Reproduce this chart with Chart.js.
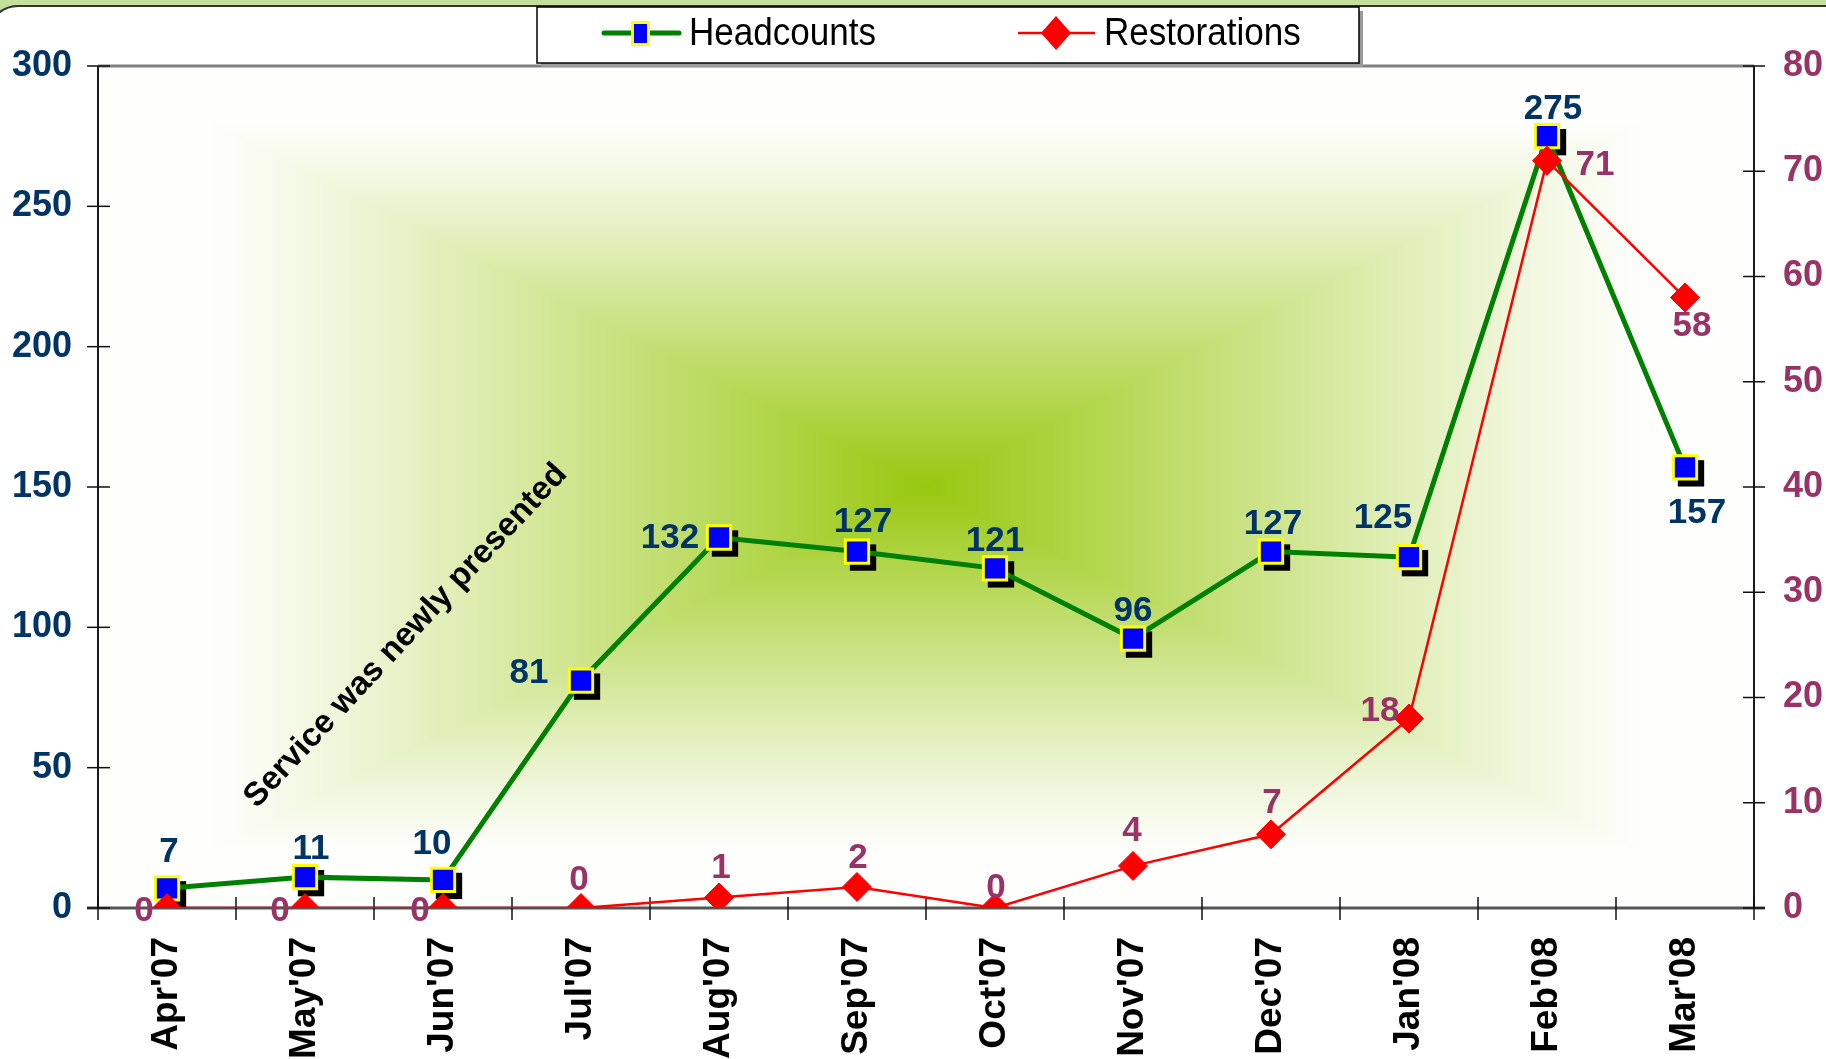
<!DOCTYPE html>
<html><head><meta charset="utf-8">
<script src="https://cdn.jsdelivr.net/npm/chart.js@4.4.0/dist/chart.umd.min.js"></script>
<style>html,body{margin:0;padding:0;background:#fff;overflow:hidden}canvas{display:block}</style>
</head><body>
<canvas id="c" width="1826" height="1059" style="width:1826px;height:1059px"></canvas>
<script>
// ---- data ----
const categories = ["Apr'07","May'07","Jun'07","Jul'07","Aug'07","Sep'07","Oct'07","Nov'07","Dec'07","Jan'08","Feb'08","Mar'08"];
const headcounts = [7, 11, 10, 81, 132, 127, 121, 96, 127, 125, 275, 157];
const restorations = [0, 0, 0, 0, 1, 2, 0, 4, 7, 18, 71, 58];
const seriesNames = ["Headcounts", "Restorations"];
const leftAxis = {min: 0, max: 300, step: 50};
const rightAxis = {min: 0, max: 80, step: 10};
const annotationText = "Service was newly presented";
const annotationAt = {x: 1.73, y: 97};

// ---- label placement (pixel offsets from each point) ----
const headLabelOffsets = [[2,-37],[6,-29],[-11,-37],[-52,-8],[-49,0],[6,-30],[0,-28],[0,-28],[2,-28],[-26,-40],[6,-28],[12,45]];
const restLabelOffsets = [[-23,2],[-25,2],[-23,2],[-2,-29],[2,-30],[1,-30],[1,-21],[-1,-36],[1,-32],[-29,-8],[48,4],[7,28]];

const FONT = "'Liberation Sans', Arial, Helvetica, sans-serif";
const NAVY = '#003366', PLUM = '#993366';

function rr(ctx, x, y, w, h, r){
  ctx.beginPath();
  ctx.moveTo(x+r, y); ctx.lineTo(x+w-r, y); ctx.arcTo(x+w, y, x+w, y+r, r);
  ctx.lineTo(x+w, y+h-r); ctx.arcTo(x+w, y+h, x+w-r, y+h, r);
  ctx.lineTo(x+r, y+h); ctx.arcTo(x, y+h, x, y+h-r, r);
  ctx.lineTo(x, y+r); ctx.arcTo(x, y, x+r, y, r); ctx.closePath();
}

const bgPlugin = {
  id: 'bg',
  beforeDraw(chart){
    const {ctx, chartArea: a, width: W, height: H} = chart;
    ctx.save();
    ctx.fillStyle = '#C5DF9D'; ctx.fillRect(0, 0, W, H);
    rr(ctx, -12, 6, W + 60, H + 60, 30);
    ctx.fillStyle = '#fff'; ctx.fill();
    ctx.lineWidth = 2.2; ctx.strokeStyle = '#333'; ctx.stroke();
    // rectangular "from centre" gradient in plot area
    const w = Math.round(a.right - a.left), h = Math.round(a.bottom - a.top);
    const off = document.createElement('canvas'); off.width = w; off.height = h;
    const octx = off.getContext('2d'); const img = octx.createImageData(w, h);
    const hw = w/2, hh = h/2, C = [152,200,15], E = [254,254,252];
    const D = img.data;
    for (let j = 0; j < h; j++) {
      const dy = Math.abs(j + 0.5 - hh) / hh;
      for (let i = 0; i < w; i++) {
        const d = Math.max(Math.abs(i + 0.5 - hw) / hw, dy);
        let t = (1 - d - 0.13) / 0.87; t = t < 0 ? 0 : (t > 1 ? 1 : t);
        t = Math.pow(t, 1.15);
        const k = (j * w + i) * 4;
        D[k] = E[0] + (C[0]-E[0]) * t; D[k+1] = E[1] + (C[1]-E[1]) * t; D[k+2] = E[2] + (C[2]-E[2]) * t; D[k+3] = 255;
      }
    }
    octx.putImageData(img, 0, 0);
    ctx.drawImage(off, a.left, a.top);
    ctx.restore();
  },
  beforeDatasetsDraw(chart){
    const {ctx, chartArea: a, scales} = chart;
    ctx.save();
    // frame
    ctx.lineCap = 'butt';
    ctx.strokeStyle = '#808080'; ctx.lineWidth = 3;
    ctx.beginPath(); ctx.moveTo(a.left, a.top); ctx.lineTo(a.right, a.top); ctx.stroke();
    ctx.strokeStyle = '#555'; ctx.lineWidth = 3;
    ctx.beginPath(); ctx.moveTo(a.left - 11, a.bottom); ctx.lineTo(a.right + 11, a.bottom); ctx.stroke();
    ctx.strokeStyle = '#1a1a1a'; ctx.lineWidth = 2;
    ctx.beginPath(); ctx.moveTo(a.left, a.top); ctx.lineTo(a.left, a.bottom); ctx.stroke();
    ctx.beginPath(); ctx.moveTo(a.right, a.top); ctx.lineTo(a.right, a.bottom); ctx.stroke();
    // tick marks crossing the axes
    ctx.lineWidth = 1.5; ctx.strokeStyle = '#111';
    scales.y.ticks.forEach(t => { const p = scales.y.getPixelForValue(t.value);
      ctx.beginPath(); ctx.moveTo(a.left - 11, p); ctx.lineTo(a.left + 12, p); ctx.stroke(); });
    scales.y1.ticks.forEach(t => { const p = scales.y1.getPixelForValue(t.value);
      ctx.beginPath(); ctx.moveTo(a.right - 11, p); ctx.lineTo(a.right + 11, p); ctx.stroke(); });
    for (let i = 0; i <= categories.length; i++) {
      const p = scales.x.getPixelForValue(i - 0.5);
      ctx.beginPath(); ctx.moveTo(p, a.bottom - 11); ctx.lineTo(p, a.bottom + 12); ctx.stroke();
    }
    // annotation
    ctx.fillStyle = '#000'; ctx.font = 'bold 33px ' + FONT;
    ctx.translate(scales.x.getPixelForValue(annotationAt.x), scales.y.getPixelForValue(annotationAt.y));
    ctx.rotate(-47 * Math.PI / 180);
    ctx.textAlign = 'center'; ctx.textBaseline = 'middle';
    ctx.fillText(annotationText, 0, 0);
    ctx.restore();
    // marker shadows for headcounts
    ctx.save();
    const meta = chart.getDatasetMeta(0);
    const s = 2 * Math.SQRT1_2 * 16.5 + 3;
    ctx.fillStyle = '#000';
    meta.data.forEach(pt => ctx.fillRect(pt.x - s/2 + 6, pt.y - s/2 + 6, s, s));
    ctx.restore();
  },
  afterDatasetsDraw(chart){
    const {ctx} = chart;
    ctx.save();
    ctx.font = 'bold 35px ' + FONT; ctx.textAlign = 'center'; ctx.textBaseline = 'middle';
    const lab = (idx, vals, offs, color) => {
      ctx.fillStyle = color;
      chart.getDatasetMeta(idx).data.forEach((pt, i) => ctx.fillText(String(vals[i]), pt.x + offs[i][0], pt.y + offs[i][1] + 1));
    };
    lab(0, headcounts, headLabelOffsets, NAVY);
    lab(1, restorations, restLabelOffsets, PLUM);
    ctx.restore();
  },
  afterDraw(chart){
    const {ctx} = chart;
    ctx.save();
    const lx = 537, ly = 7, lw = 822, lh = 56;
    ctx.fillStyle = '#9a9a9a'; ctx.fillRect(lx + 4, ly + 4, lw, lh);
    ctx.fillStyle = '#fff'; ctx.fillRect(lx, ly, lw, lh);
    ctx.strokeStyle = '#000'; ctx.lineWidth = 1.5; ctx.strokeRect(lx, ly, lw, lh);
    // Headcounts item
    ctx.strokeStyle = '#008000'; ctx.lineWidth = 5; ctx.lineCap = 'round';
    ctx.beginPath(); ctx.moveTo(604, 33); ctx.lineTo(679, 33); ctx.stroke();
    ctx.fillStyle = '#FFFF00'; ctx.fillRect(631, 21, 19, 25);
    ctx.fillStyle = '#0000FF'; ctx.fillRect(634, 24, 13, 19);
    // Restorations item
    ctx.strokeStyle = '#FF0000'; ctx.lineWidth = 2.5; ctx.lineCap = 'butt';
    ctx.beginPath(); ctx.moveTo(1018, 33); ctx.lineTo(1095, 33); ctx.stroke();
    ctx.fillStyle = '#FF0000';
    ctx.beginPath(); ctx.moveTo(1041, 33); ctx.lineTo(1056, 16); ctx.lineTo(1071, 33); ctx.lineTo(1056, 50); ctx.closePath(); ctx.fill();
    // texts
    ctx.fillStyle = '#000'; ctx.font = '38px ' + FONT; ctx.textBaseline = 'alphabetic'; ctx.textAlign = 'left';
    const sx = 187 / ctx.measureText(seriesNames[0]).width;
    [[seriesNames[0], 689], [seriesNames[1], 1104]].forEach(([t, x]) => {
      ctx.save(); ctx.translate(x, 45); ctx.scale(sx, 1); ctx.fillText(t, 0, 0); ctx.restore();
    });
    ctx.restore();
  }
};

new Chart(document.getElementById('c'), {
  type: 'line',
  data: {
    labels: categories,
    datasets: [
      { label: seriesNames[0], data: headcounts, yAxisID: 'y', order: 2,
        borderColor: '#008000', borderWidth: 5, tension: 0, fill: false,
        pointStyle: 'rect', pointRadius: 16.5, pointHoverRadius: 16.5,
        pointBackgroundColor: '#0000FF', pointBorderColor: '#FFFF00', pointBorderWidth: 3, pointHoverBorderWidth: 3 },
      { label: seriesNames[1], data: restorations, yAxisID: 'y1', order: 1,
        borderColor: '#FF0000', borderWidth: 2.5, tension: 0, fill: false,
        pointStyle: 'rectRot', pointRadius: 14.5, pointHoverRadius: 14.5,
        pointBackgroundColor: '#FF0000', pointBorderColor: '#FF0000', pointBorderWidth: 1 }
    ]
  },
  options: {
    responsive: false, animation: false, devicePixelRatio: 1,
    layout: { padding: { top: 66, left: 0, right: 0, bottom: 0 } },
    plugins: { legend: { display: false }, tooltip: { enabled: false } },
    scales: {
      x: { type: 'category', offset: true,
        grid: { display: false, drawTicks: false, tickLength: 0 }, border: { display: false },
        ticks: { color: '#000', font: { family: FONT, size: 37, weight: 'bold' }, maxRotation: 90, minRotation: 90, padding: 29, autoSkip: false },
        afterFit(s){ s.height = 151; } },
      y: { position: 'left', min: leftAxis.min, max: leftAxis.max,
        grid: { display: false, drawTicks: false, tickLength: 0 }, border: { display: false },
        ticks: { stepSize: leftAxis.step, color: NAVY, font: { family: FONT, size: 36, weight: 'bold' }, padding: 26 },
        afterFit(s){ s.width = 98; } },
      y1: { position: 'right', min: rightAxis.min, max: rightAxis.max,
        grid: { display: false, drawTicks: false, tickLength: 0 }, border: { display: false },
        ticks: { stepSize: rightAxis.step, color: PLUM, font: { family: FONT, size: 36, weight: 'bold' }, padding: 29 },
        afterFit(s){ s.width = 72; } }
    }
  },
  plugins: [bgPlugin]
});
</script>
</body></html>
